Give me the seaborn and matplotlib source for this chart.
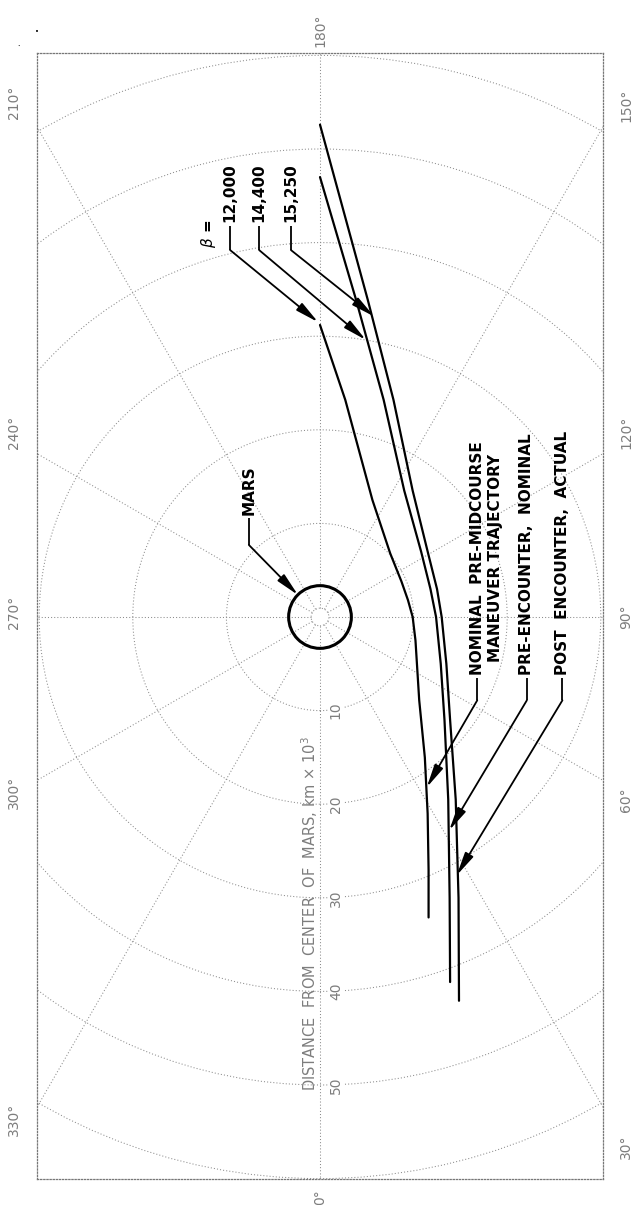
#!/usr/bin/env python3
"""Mariner IV Mars encounter trajectories, drawn as the rotated (portrait) page."""

import numpy as np
import pandas as pd
import matplotlib
matplotlib.use("Agg")
import matplotlib.pyplot as plt
from matplotlib.patches import Circle
import seaborn as sns

# -- data (distances in km x 10^3; page is rotated so 0 deg points down) -------
cases = ["nominal", "pre", "post"]
case_text = [
    ["NOMINAL  PRE-MIDCOURSE", "MANEUVER TRAJECTORY"],
    ["PRE-ENCOUNTER,  NOMINAL"],
    ["POST  ENCOUNTER,  ACTUAL"],
]
betas = ["12,000", "14,400", "15,250"]

nominal_x = [0.0, 2.7, 5.6, 7.5, 8.7, 9.4, 9.9, 10.2, 10.6, 11.2, 11.5, 11.6, 11.6]
nominal_y = [31.2, 23.2, 12.5, 6.8, 3.8, 1.8, 0.0, -2.5, -8.9, -15.0, -21.0, -27.0, -32.1]

pre_x = [0.0, 3.85, 6.8, 9.0, 10.8, 11.8, 12.4, 12.9, 13.3, 13.7, 13.85, 13.9]
pre_y = [47.0, 33.9, 23.2, 13.5, 7.0, 3.0, 0.0, -5.0, -11.0, -19.5, -30.0, -39.0]

post_x = [0.0, 5.1, 7.85, 9.9, 11.5, 12.5, 13.0, 13.5, 13.9, 14.5, 14.8, 14.85]
post_y = [52.6, 33.9, 23.2, 13.5, 7.0, 3.0, 0.0, -5.0, -11.0, -19.5, -30.0, -41.0]

ring_radii = [10, 20, 30, 40, 50, 60]
ring_labels = ["10", "20", "30", "40", "50"]
spoke_angles = [0, 30, 60, 90, 120, 150, 180, 210, 240, 270, 300, 330]
mars_radius = 3.35
core_radius = 0.95

# -- frame / scale ---------------------------------------------------------------
W, H = 635, 1205
S = 9.36                     # pixels per 1000 km
cx, cy = 320, 617            # Mars centre in page pixels
fl, fr, ft, fb = 37, 603, 53, 1179

sns.set_style("white")
plt.rcParams["font.family"] = ["DejaVu Sans"]

fig = plt.figure(figsize=(W / 100, H / 100), dpi=100)
ax = fig.add_axes([fl / W, (H - fb) / H, (fr - fl) / W, (fb - ft) / H])
ax.set_xlim((fl - cx) / S, (fr - cx) / S)
ax.set_ylim((cy - fb) / S, (cy - ft) / S)
ax.set_xticks([])
ax.set_yticks([])
for sp in ax.spines.values():
    sp.set_linestyle((0, (1, 1.5)))
    sp.set_color("#777777")
    sp.set_linewidth(0.9)

grid_kw = dict(color="#8c8c8c", lw=0.75, ls=(0, (1, 2)))

# range rings
for r in ring_radii:
    ax.add_patch(Circle((0, 0), r, fill=False, **grid_kw))
ax.add_patch(Circle((0, 0), core_radius, fill=False, **grid_kw))

# spokes (0 deg down, 90 deg right, 180 deg up)
for a in spoke_angles:
    t = np.deg2rad(a)
    dx, dy = np.sin(t), -np.cos(t)
    ax.plot([core_radius * dx, 80 * dx], [core_radius * dy, 80 * dy], **grid_kw)

# Mars
ax.add_patch(Circle((0, 0), mars_radius, fill=False, color="black", lw=2.2, zorder=4))

# trajectories
df = pd.concat([
    pd.DataFrame({"x": nominal_x, "y": nominal_y, "case": cases[0]}),
    pd.DataFrame({"x": pre_x, "y": pre_y, "case": cases[1]}),
    pd.DataFrame({"x": post_x, "y": post_y, "case": cases[2]}),
], ignore_index=True)
sns.lineplot(data=df, x="x", y="y", hue="case", units="case", estimator=None,
             sort=False, palette={c: "black" for c in cases}, lw=1.6,
             legend=False, ax=ax, zorder=5)
ax.set_xlabel("")
ax.set_ylabel("")

# -- gray page labels ------------------------------------------------------------
gray = "#7d7d7d"
ang_kw = dict(rotation=90, rotation_mode="anchor", ha="center", va="center",
              fontsize=10, color=gray, clip_on=False)
xl, xr = (fl - cx) / S - 2.5, (fr - cx) / S + 2.5
for txt, x, y in [("180°", 0, 62.7), ("0°", 0, -62.0),
                  ("210°", xl, 55.0), ("240°", xl, 19.7), ("270°", xl, 0.5),
                  ("300°", xl, -18.7), ("330°", xl, -53.7),
                  ("150°", xr, 54.7), ("120°", xr, 19.7), ("90°", xr, 0.0),
                  ("60°", xr, -19.5), ("30°", xr, -56.6)]:
    ax.text(x, y, txt, **ang_kw)

for r, lab in zip(ring_radii, ring_labels):
    ax.text(1.7, -r, lab, rotation=90, rotation_mode="anchor", ha="center",
            va="center", fontsize=10, color=gray,
            bbox=dict(fc="white", ec="none", pad=0.5))

ax.text(-1.1, -50.6, "DISTANCE  FROM  CENTER  OF  MARS, km × 10$^3$",
        rotation=90, rotation_mode="anchor", ha="left", va="center",
        fontsize=10.5, color=gray)

# scan specks above the frame
fig.text(37 / W, 1 - 32 / H, "•", fontsize=5, color="black", ha="center", va="center")
fig.text(19 / W, 1 - 47 / H, "•", fontsize=3, color="black", ha="center", va="center")

# -- black call-outs ---------------------------------------------------------------
lab_kw = dict(rotation=90, rotation_mode="anchor", ha="left", va="center",
              fontsize=11, fontweight="bold", color="black")
arrow_kw = dict(arrowstyle="-|>,head_length=1.0,head_width=0.2", color="black",
                lw=1.3, shrinkA=0, shrinkB=0, mutation_scale=14)


def callout(x, y0, y1, tip):
    ax.plot([x, x], [y0, y1], color="black", lw=1.3, solid_capstyle="butt")
    ax.annotate("", xy=tip, xytext=(x, y1), arrowprops=arrow_kw)


# beta labels
ax.text(-11.9, 39.4, r"$\beta$ =", **lab_kw)
for txt, x, tip in zip(betas, [-9.6, -6.5, -3.1],
                       [(-0.2, 31.5), (4.9, 29.6), (5.8, 32.1)]):
    ax.text(x, 42.2, txt, **lab_kw)
    callout(x, 41.8, 39.2, tip)

# Mars label
ax.text(-7.6, 10.9, "MARS", **lab_kw)
callout(-7.6, 10.6, 7.7, (-2.35, 2.35))

# trajectory labels
for lines, x, tip in zip(case_text, [16.8, 22.1, 25.9],
                         [(11.4, -18.2), (13.8, -22.8), (14.6, -27.6)]):
    ax.text(x, -6.2, lines[0], **lab_kw)
    if len(lines) > 1:
        ax.text(x + 1.95, -4.8, lines[1], **lab_kw)
    callout(x, -6.5, -8.9, tip)

fig.savefig("out.png", dpi=100)
plt.close(fig)
